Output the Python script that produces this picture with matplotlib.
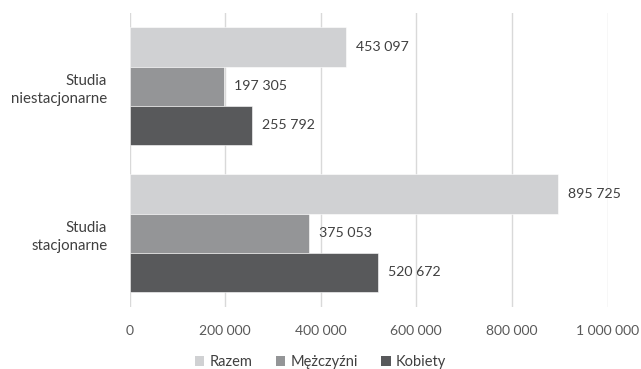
import matplotlib
matplotlib.use("Agg")
import matplotlib.pyplot as plt
from matplotlib.patches import Patch
import numpy as np

plt.rcParams['font.family'] = ['Lato', 'DejaVu Sans']

categories = ["Studia\nstacjonarne", "Studia\nniestacjonarne"]
series_names = ["Razem", "Mężczyźni", "Kobiety"]
razem = [895725, 453097]
mezczyzni = [375053, 197305]
kobiety = [520672, 255792]
xticks = [0, 200000, 400000, 600000, 800000, 1000000]
colors = ["#d0d1d3", "#949597", "#58595b"]

def fmt(v):
    return f"{v:,}".replace(",", " ")

fig = plt.figure(figsize=(6.41, 3.69), dpi=100)
ax = fig.add_axes([129.5/641, 1-306.7/369, (607.5-129.5)/641, (306.7-12.7)/369])

y = np.arange(len(categories))
h = 0.8/3
data = [razem, mezczyzni, kobiety]
offsets = [h, 0, -h]
for vals, off, c, name in zip(data, offsets, colors, series_names):
    bars = ax.barh(y + off, vals, height=h, color=c, edgecolor="white", linewidth=0.4, label=name, zorder=3)
    for b, v in zip(bars, vals):
        ax.text(v + 21000, b.get_y() + b.get_height()/2, fmt(v), va="center", ha="left",
                fontsize=10.2, color="#404040", zorder=4)

ax.set_xlim(0, 1000000)
ax.set_ylim(-0.5, 1.5)
ax.set_xticks(xticks)
ax.set_xticklabels([fmt(v) for v in xticks], fontsize=10, color="#595959")
ax.set_yticks(y)
ax.set_yticklabels(categories, fontsize=10.8, color="#404040", ha="right", multialignment="right",
                   linespacing=1.4)
ax.tick_params(axis="both", length=0)
ax.tick_params(axis="x", pad=13)
ax.tick_params(axis="y", pad=16)
ax.xaxis.grid(True, color="#d9d9d9", linewidth=1.0, zorder=0)
for s in ax.spines.values():
    s.set_visible(False)

handles = [Patch(facecolor=c, label=n) for c, n in zip(colors, series_names)]
fig.legend(handles=handles, loc="center", bbox_to_anchor=(0.5, 1-362/369), ncol=3, frameon=False,
           fontsize=10.5, handlelength=0.65, handleheight=0.65, handletextpad=0.35, columnspacing=1.6,
           labelcolor="#404040")

fig.savefig("out.png", dpi=100)
